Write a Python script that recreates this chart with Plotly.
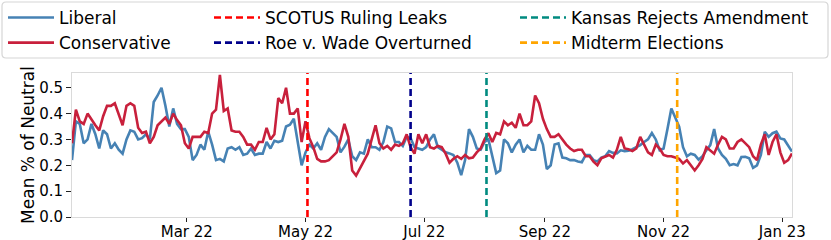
import pandas as pd
import plotly.graph_objects as go

# ---- data (one value every 2 days from 2022-01-01) ----
start_date = "2022-01-01"
n_points = 186

liberal = [
    0.22, 0.37, 0.36, 0.285, 0.30, 0.36, 0.32, 0.265, 0.335, 0.32,
    0.265, 0.285, 0.26, 0.245, 0.30, 0.335, 0.33, 0.30, 0.305, 0.32,
    0.30, 0.445, 0.47, 0.50, 0.43, 0.35, 0.42, 0.36, 0.34, 0.34,
    0.31, 0.22, 0.24, 0.28, 0.26, 0.33, 0.28, 0.22, 0.225, 0.215,
    0.265, 0.27, 0.26, 0.27, 0.24, 0.245, 0.265, 0.24, 0.245, 0.245,
    0.29, 0.265, 0.295, 0.29, 0.295, 0.35, 0.357, 0.38, 0.29, 0.20,
    0.25, 0.28, 0.265, 0.285, 0.26, 0.31, 0.34, 0.324, 0.31, 0.25,
    0.272, 0.30, 0.235, 0.22, 0.25, 0.245, 0.30, 0.27, 0.27, 0.26,
    0.29, 0.35, 0.343, 0.29, 0.29, 0.275, 0.31, 0.305, 0.27, 0.265,
    0.26, 0.27, 0.30, 0.32, 0.27, 0.26, 0.25, 0.246, 0.24, 0.21,
    0.162, 0.22, 0.34, 0.31, 0.265, 0.26, 0.29, 0.30, 0.24, 0.17,
    0.18, 0.30, 0.285, 0.25, 0.28, 0.30, 0.25, 0.275, 0.26, 0.26,
    0.32, 0.28, 0.185, 0.20, 0.28, 0.285, 0.23, 0.227, 0.22, 0.22,
    0.215, 0.212, 0.24, 0.24, 0.22, 0.215, 0.23, 0.235, 0.255, 0.248,
    0.246, 0.258, 0.255, 0.256, 0.262, 0.27, 0.278, 0.29, 0.30, 0.325,
    0.30, 0.258, 0.265, 0.34, 0.42, 0.385, 0.35, 0.27, 0.235, 0.245,
    0.24, 0.222, 0.235, 0.258, 0.278, 0.34, 0.265, 0.24, 0.225, 0.20,
    0.205, 0.20, 0.232, 0.233, 0.227, 0.19, 0.20, 0.24, 0.33, 0.31,
    0.324, 0.33, 0.304, 0.30, 0.278, 0.253,
]

conservative = [
    0.285, 0.415, 0.37, 0.36, 0.40, 0.375, 0.355, 0.335, 0.39, 0.43,
    0.43, 0.44, 0.395, 0.355, 0.43, 0.44, 0.43, 0.345, 0.325, 0.33,
    0.285, 0.31, 0.355, 0.37, 0.385, 0.36, 0.40, 0.375, 0.355, 0.285,
    0.265, 0.31, 0.31, 0.31, 0.33, 0.325, 0.40, 0.415, 0.55, 0.41,
    0.42, 0.335, 0.33, 0.33, 0.31, 0.28, 0.28, 0.26, 0.29, 0.29,
    0.345, 0.30, 0.32, 0.46, 0.44, 0.50, 0.40, 0.40, 0.42, 0.29,
    0.37, 0.305, 0.27, 0.225, 0.215, 0.215, 0.22, 0.235, 0.25, 0.30,
    0.36, 0.31, 0.18, 0.16, 0.19, 0.22, 0.245, 0.30, 0.355, 0.285,
    0.265, 0.275, 0.26, 0.28, 0.275, 0.285, 0.32, 0.27, 0.245, 0.32,
    0.285, 0.32, 0.27, 0.265, 0.275, 0.27, 0.245, 0.21, 0.225, 0.235,
    0.225, 0.24, 0.227, 0.23, 0.25, 0.265, 0.30, 0.324, 0.29, 0.325,
    0.32, 0.37, 0.355, 0.365, 0.345, 0.40, 0.355, 0.355, 0.37, 0.47,
    0.44, 0.38, 0.34, 0.31, 0.31, 0.32, 0.30, 0.28, 0.265, 0.255,
    0.26, 0.26, 0.235, 0.235, 0.214, 0.20, 0.227, 0.233, 0.24, 0.23,
    0.26, 0.31, 0.265, 0.262, 0.255, 0.265, 0.31, 0.28, 0.25, 0.24,
    0.28, 0.265, 0.24, 0.235, 0.235, 0.23, 0.225, 0.207, 0.22, 0.20,
    0.18, 0.20, 0.225, 0.27, 0.259, 0.245, 0.28, 0.31, 0.30, 0.265,
    0.265, 0.29, 0.30, 0.285, 0.27, 0.235, 0.22, 0.28, 0.32, 0.24,
    0.29, 0.32, 0.25, 0.21, 0.22, 0.246,
]

event_names = ["SCOTUS Ruling Leaks", "Roe v. Wade Overturned",
               "Kansas Rejects Amendment", "Midterm Elections"]
event_dates = ["2022-05-02", "2022-06-24", "2022-08-02", "2022-11-08"]
event_colors = ["#FF0000", "#00008B", "#008B80", "#FFA500"]

tick_dates = ["2022-03-01", "2022-05-01", "2022-07-01", "2022-09-01",
              "2022-11-01", "2023-01-01"]
tick_labels = ["Mar 22", "May 22", "Jul 22", "Sep 22", "Nov 22", "Jan 23"]
y_ticks = [0.0, 0.1, 0.2, 0.3, 0.4, 0.5]
y_max = 0.557
x_range = ["2022-01-01", "2023-01-06"]

dates = pd.date_range(start_date, periods=n_points, freq="2D")

FONT = "DejaVu Sans"
fig = go.Figure()

fig.add_trace(go.Scatter(x=dates, y=liberal, mode="lines", name="Liberal",
                         line=dict(color="#4682B4", width=2.6),
                         legend="legend"))
fig.add_trace(go.Scatter(x=dates, y=conservative, mode="lines", name="Conservative",
                         line=dict(color="#C8203C", width=2.6),
                         legend="legend"))

legend_ids = ["legend2", "legend2", "legend3", "legend3"]
for name, d, c, lg in zip(event_names, event_dates, event_colors, legend_ids):
    fig.add_trace(go.Scatter(x=[d, d], y=[0, y_max], mode="lines", name=name,
                             line=dict(color=c, width=2.6, dash="7px,4px"),
                             legend=lg, hoverinfo="skip"))

# legend frame (rounded rectangle in paper coords)
L, R, T, B = 72, 792, 73, 217
W, H = R - L, B - T
def px(x):
    return (x - L) / W
def py(y):
    return (B - y) / H
x0, x1, y0, y1 = px(2), px(828), py(58), py(2)
rx, ry = 4 / W, 4 / H
path = (f"M{x0+rx},{y0} L{x1-rx},{y0} Q{x1},{y0} {x1},{y0+ry} "
        f"L{x1},{y1-ry} Q{x1},{y1} {x1-rx},{y1} L{x0+rx},{y1} "
        f"Q{x0},{y1} {x0},{y1-ry} L{x0},{y0+ry} Q{x0},{y0} {x0+rx},{y0} Z")
fig.add_shape(type="path", path=path, xref="paper", yref="paper",
              line=dict(color="#D6D6D6", width=1.2), fillcolor="rgba(0,0,0,0)",
              layer="above")

leg_common = dict(font=dict(family=FONT, size=17, color="black"),
                  bgcolor="rgba(0,0,0,0)", borderwidth=0, itemwidth=46,
                  xanchor="left", yanchor="top", orientation="v",
                  tracegroupgap=0, itemclick=False, itemdoubleclick=False)

fig.update_layout(
    width=831, height=240,
    margin=dict(l=L, r=831 - R, t=T, b=240 - B, autoexpand=False),
    paper_bgcolor="white", plot_bgcolor="white",
    font=dict(family=FONT, size=15, color="black"),
    showlegend=True,
    legend=dict(x=px(3), y=py(0), **leg_common),
    legend2=dict(x=px(209), y=py(0), **leg_common),
    legend3=dict(x=px(515), y=py(0), **leg_common),
    xaxis=dict(range=x_range, tickvals=tick_dates, ticktext=tick_labels,
               showgrid=False, zeroline=False, showline=True, mirror=True,
               linecolor="#DADADA", linewidth=1, ticks="outside", ticklen=4,
               tickwidth=1.2, tickcolor="#222", automargin=False,
               ticklabelstandoff=-3,
               tickfont=dict(family=FONT, size=15, color="black")),
    yaxis=dict(range=[0, y_max], tickvals=y_ticks,
               ticktext=[f"{v:.1f}" for v in y_ticks],
               showgrid=False, zeroline=False, showline=True, mirror=True,
               linecolor="#DADADA", linewidth=1, ticks="outside", ticklen=5,
               tickwidth=1.2, tickcolor="#222", automargin=False,
               tickfont=dict(family=FONT, size=15, color="black"),
               title=dict(text="Mean % of Neutral", standoff=0,
                          font=dict(family=FONT, size=17, color="black"))),
)

fig.write_html("out.html", config={"displayModeBar": False},
               post_script="document.body.style.margin='0px';")
